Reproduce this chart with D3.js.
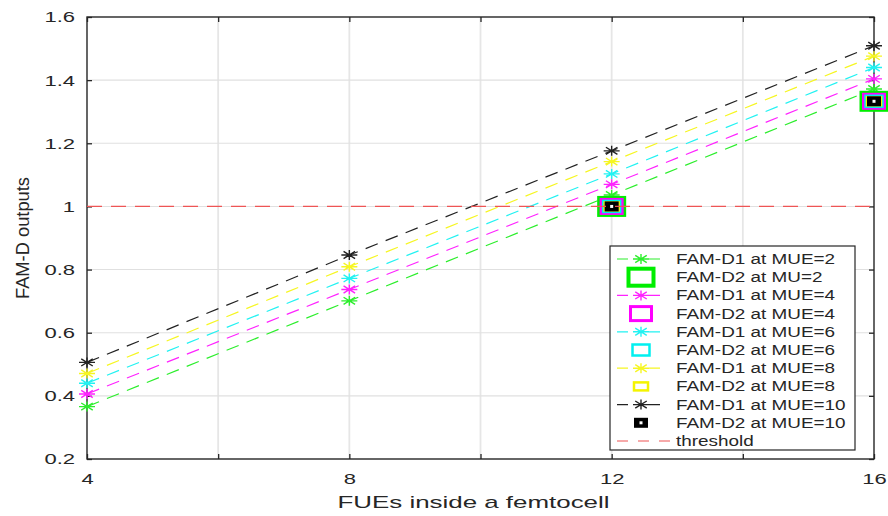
<!DOCTYPE html>
<html>
<head>
<meta charset="utf-8">
<script src="https://cdn.jsdelivr.net/npm/d3@7/dist/d3.min.js"></script>
<style>
  body { margin: 0; background: #fff; }
  text { font-family: "Liberation Sans", Arial, sans-serif; fill: #262626; }
</style>
</head>
<body>
<div id="chart-area"></div>
<script>
// data
var fues = [4, 8, 12, 16];
var famD1mue2 = [0.366, 0.701, 1.036, 1.372];
var famD1mue4 = [0.406, 0.737, 1.070, 1.404];
var famD1mue6 = [0.440, 0.772, 1.103, 1.440];
var famD1mue8 = [0.471, 0.809, 1.142, 1.476];
var famD1mue10 = [0.506, 0.846, 1.176, 1.509];
var famD2x = [12, 16];
var famD2 = [1.0, 1.333];
var threshold = 1;
var xTicks = [4, 6, 8, 10, 12, 14, 16];
var xLabels = [4, 8, 12, 16];
var yTicks = [0.2, 0.4, 0.6, 0.8, 1, 1.2, 1.4, 1.6];

var margin = {top: 17, right: 14, bottom: 57, left: 87},
    width = 888 - margin.left - margin.right,
    height = 516 - margin.top - margin.bottom;

var svg = d3.select("#chart-area")
    .append("svg")
        .attr("width", 888)
        .attr("height", 516)
    .append("g")
        .attr("transform", "translate(" + margin.left + "," + margin.top + ")");

var x = d3.scaleLinear().domain([4, 16]).range([0, width]);
var y = d3.scaleLinear().domain([0.2, 1.6]).range([height, 0]);

// the reference picture is stretched sideways, so text is widened to match
function stretch(sel, k) {
    sel.each(function() {
        var len = this.getComputedTextLength();
        if (len > 0) {
            d3.select(this)
                .attr("textLength", len * k)
                .attr("lengthAdjust", "spacingAndGlyphs");
        }
    });
}

// grid
svg.append("g").selectAll("line")
    .data(xTicks.slice(1, -1))
    .enter().append("line")
    .attr("x1", d => x(d)).attr("x2", d => x(d))
    .attr("y1", 0).attr("y2", height)
    .attr("stroke", "#e6e6e6").attr("stroke-width", 1.8);
svg.append("g").selectAll("line")
    .data(yTicks.slice(1, -1))
    .enter().append("line")
    .attr("x1", 0).attr("x2", width)
    .attr("y1", d => y(d)).attr("y2", d => y(d))
    .attr("stroke", "#e0e0e0").attr("stroke-width", 1.1);

// axes (MATLAB style, ticks inside, box on)
var axisColor = "#262626";
function styleAxis(g) {
    g.select(".domain").remove();
    g.selectAll(".tick line").attr("stroke", axisColor).attr("stroke-width", 1.3);
    g.selectAll(".tick text").style("font-size", "15.5px").style("fill", axisColor)
        .style("font-family", "Liberation Sans, Arial, sans-serif");
}
svg.append("g")
    .attr("transform", "translate(0," + height + ")")
    .call(d3.axisBottom(x).tickValues(xTicks).tickSizeInner(-5).tickPadding(14)
        .tickFormat(d => xLabels.indexOf(d) >= 0 ? d : ""))
    .call(styleAxis)
    .call(g => stretch(g.selectAll(".tick text"), 1.42));
svg.append("g")
    .call(d3.axisTop(x).tickValues(xTicks).tickSizeInner(-5).tickFormat(""))
    .call(styleAxis);
svg.append("g")
    .call(d3.axisLeft(y).tickValues(yTicks).tickSizeInner(-5).tickPadding(12)
        .tickFormat(d3.format("~g")))
    .call(styleAxis)
    .call(g => stretch(g.selectAll(".tick text"), 1.42));
svg.append("g")
    .attr("transform", "translate(" + width + ",0)")
    .call(d3.axisRight(y).tickValues(yTicks).tickSizeInner(-5).tickFormat(""))
    .call(styleAxis);
svg.append("rect")
    .attr("width", width).attr("height", height)
    .attr("fill", "none").attr("stroke", axisColor).attr("stroke-width", 1.4);

// series
var d1Series = [
    {name: "FAM-D1 at MUE=2", vals: famD1mue2, color: "#2cee2c"},
    {name: "FAM-D1 at MUE=4", vals: famD1mue4, color: "#ff22ff"},
    {name: "FAM-D1 at MUE=6", vals: famD1mue6, color: "#22f2f2"},
    {name: "FAM-D1 at MUE=8", vals: famD1mue8, color: "#f6f622"},
    {name: "FAM-D1 at MUE=10", vals: famD1mue10, color: "#222222"}
];
var d2Series = [
    {name: "FAM-D2 at MU=2", color: "#00ee00", w: 25, h: 17, sw: 4},
    {name: "FAM-D2 at MUE=4", color: "#ff00ff", w: 21, h: 14, sw: 3},
    {name: "FAM-D2 at MUE=6", color: "#00f0f0", w: 17, h: 11, sw: 2.5},
    {name: "FAM-D2 at MUE=8", color: "#f4f400", w: 14, h: 8, sw: 2.5},
    {name: "FAM-D2 at MUE=10", color: "#000000", w: 11, h: 7, sw: 3}
];

var line = d3.line()
    .x((d, i) => x(fues[i]))
    .y(d => y(d));

function star(g, cx, cy, color) {
    var rx = 8, ry = 5;
    var p = "M" + (cx - rx) + "," + cy + "L" + (cx + rx) + "," + cy +
        "M" + cx + "," + (cy - ry) + "L" + cx + "," + (cy + ry) +
        "M" + (cx - rx * 0.72) + "," + (cy - ry * 0.72) + "L" + (cx + rx * 0.72) + "," + (cy + ry * 0.72) +
        "M" + (cx - rx * 0.72) + "," + (cy + ry * 0.72) + "L" + (cx + rx * 0.72) + "," + (cy - ry * 0.72);
    g.append("path").attr("d", p).attr("stroke", color).attr("stroke-width", 1.4).attr("fill", "none");
}

function square(g, cx, cy, s) {
    g.append("rect")
        .attr("x", cx - s.w / 2).attr("y", cy - s.h / 2)
        .attr("width", s.w).attr("height", s.h)
        .attr("fill", s.color === "#000000" ? "#000" : "none")
        .attr("stroke", s.color).attr("stroke-width", s.sw);
    if (s.color === "#000000") {
        g.append("rect").attr("x", cx - 1.5).attr("y", cy - 1.5)
            .attr("width", 3).attr("height", 3).attr("fill", "#fff");
    }
}

var curves = svg.append("g").attr("class", "curves");
d1Series.forEach(function(s) {
    curves.append("path")
        .datum(s.vals)
        .attr("d", line)
        .attr("fill", "none")
        .attr("stroke", s.color)
        .attr("stroke-width", 1.2)
        .attr("stroke-dasharray", "13,8.5");
});
d1Series.forEach(function(s) {
    s.vals.forEach(function(v, i) { star(curves, x(fues[i]), y(v), s.color); });
});
d2Series.forEach(function(s) {
    famD2.forEach(function(v, i) { square(curves, x(famD2x[i]), y(v), s); });
});

// threshold
svg.append("line")
    .attr("x1", 0).attr("x2", width)
    .attr("y1", y(threshold)).attr("y2", y(threshold))
    .attr("stroke", "#ee5555").attr("stroke-width", 1.2)
    .attr("stroke-dasharray", "15,9");

// axis labels
svg.append("text")
    .attr("x", width / 2 - 7).attr("y", height + 49)
    .style("text-anchor", "middle").style("font-size", "17px")
    .text("FUEs inside a femtocell")
    .attr("textLength", 272).attr("lengthAdjust", "spacingAndGlyphs");
svg.append("text")
    .attr("transform", "rotate(-90)")
    .attr("x", -(238 - margin.top)).attr("y", 29 - margin.left)
    .style("text-anchor", "middle").style("font-size", "17.5px")
    .text("FAM-D outputs")
    .attr("textLength", 122).attr("lengthAdjust", "spacingAndGlyphs");

// legend
var legend = svg.append("g").attr("transform", "translate(" + (610 - margin.left) + "," + (246 - margin.top) + ")");
legend.append("rect")
    .attr("width", 245).attr("height", 204)
    .attr("fill", "#fff").attr("stroke", axisColor).attr("stroke-width", 1.2);
var entries = [];
d1Series.forEach(function(s, i) {
    entries.push({type: "d1", s: s});
    entries.push({type: "d2", s: d2Series[i]});
});
entries.push({type: "th", s: {name: "threshold", color: "#ee5555"}});
entries.forEach(function(e, i) {
    var ly = 13 + i * 18.2;
    if (e.type === "d1") {
        legend.append("line").attr("x1", 7).attr("x2", 60).attr("y1", ly).attr("y2", ly)
            .attr("stroke", e.s.color).attr("stroke-width", 1.2).attr("stroke-dasharray", "11,21");
        star(legend, 31, ly, e.s.color);
    } else if (e.type === "d2") {
        square(legend, 31, ly, e.s);
    } else {
        legend.append("line").attr("x1", 7).attr("x2", 60).attr("y1", ly).attr("y2", ly)
            .attr("stroke", e.s.color).attr("stroke-width", 1.2).attr("stroke-dasharray", "11,10");
    }
    legend.append("text")
        .attr("x", 66).attr("y", ly + 5)
        .style("font-size", "14px")
        .text(e.s.name)
        .call(t => stretch(t, 1.35));
});
</script>
</body>
</html>
